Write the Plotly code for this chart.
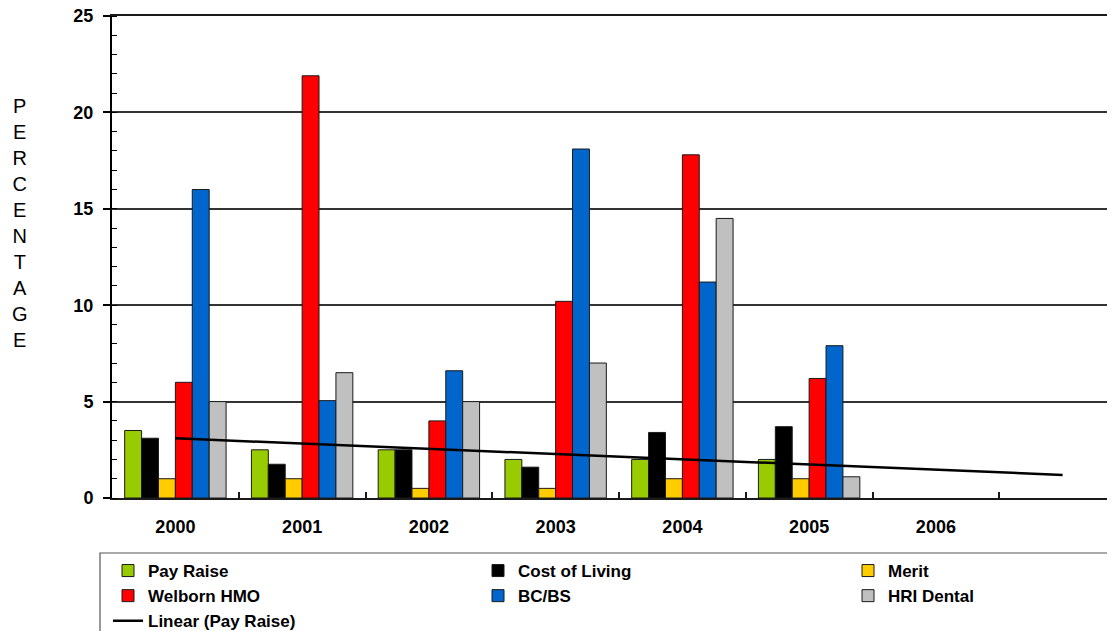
import numpy as np
import plotly.graph_objects as go

categories = ["2000", "2001", "2002", "2003", "2004", "2005", "2006", " "]
pay_raise = [3.5, 2.5, 2.5, 2.0, 2.0, 2.0]
cost_of_living = [3.1, 1.75, 2.5, 1.6, 3.4, 3.7]
merit = [1.0, 1.0, 0.5, 0.5, 1.0, 1.0]
welborn_hmo = [6.0, 21.9, 4.0, 10.2, 17.8, 6.2]
bcbs = [16.0, 5.05, 6.6, 18.1, 11.2, 7.9]
hri_dental = [5.0, 6.5, 5.0, 7.0, 14.5, 1.1]
y_ticks = [0, 5, 10, 15, 20, 25]

series = [
    ("Pay Raise", pay_raise, "#99CC00"),
    ("Cost of Living", cost_of_living, "#000000"),
    ("Merit", merit, "#FFCC00"),
    ("Welborn HMO", welborn_hmo, "#FF0000"),
    ("BC/BS", bcbs, "#0066CC"),
    ("HRI Dental", hri_dental, "#C0C0C0"),
]

# the page body adds an 8px offset; screen = figure + OFF
OFF = 8
PLOT_LEFT_S, PLOT_TOP_S, PLOT_BOTTOM_S, PLOT_RIGHT_S = 112, 16, 498, 1126
L = PLOT_LEFT_S - OFF
T = PLOT_TOP_S - OFF
W = PLOT_RIGHT_S - OFF
H = 660
B = H - (PLOT_BOTTOM_S - OFF)
plot_w = W - L
plot_h = H - T - B

def sx(px):
    return (px - PLOT_LEFT_S) / plot_w

def sy(py):
    return (PLOT_BOTTOM_S - py) / plot_h

fig = go.Figure()
for name, vals, col in series:
    fig.add_trace(go.Bar(
        x=categories[:len(vals)], y=vals, name=name,
        marker=dict(color=col, line=dict(color="#1a1a1a", width=1)),
    ))

# Linear trendline of Pay Raise (least squares over category index)
idx = np.arange(1, len(pay_raise) + 1)
slope, intercept = np.polyfit(idx, pay_raise, 1)
all_idx = np.arange(1, len(categories) + 1)
trend = slope * all_idx + intercept
fig.add_trace(go.Scatter(
    x=categories, y=trend, mode="lines", name="Linear (Pay Raise)",
    line=dict(color="#000000", width=2.5),
))

font_main = "Liberation Sans, Arial, sans-serif"

fig.update_layout(
    width=W, height=H,
    margin=dict(l=L, r=0, t=T, b=B, autoexpand=False),
    paper_bgcolor="white", plot_bgcolor="white",
    barmode="group", bargap=0.2, bargroupgap=0,
    font=dict(family=font_main, color="black"),
    showlegend=True,
    legend=dict(
        orientation="h",
        x=sx(108), y=sy(553),
        xanchor="left", yanchor="top",
        font=dict(size=17, family=font_main, color="black", weight="bold"),
        entrywidth=325, entrywidthmode="pixels",
        bgcolor="rgba(0,0,0,0)", borderwidth=0,
        tracegroupgap=0, itemwidth=30,
    ),
    xaxis=dict(
        type="category", categoryorder="array", categoryarray=categories,
        range=[-0.5, 7.5],
        showgrid=False, zeroline=False,
        showline=True, linecolor="#1a1a1a", linewidth=2, mirror=True,
        ticks="inside", tickson="boundaries", ticklen=6, tickwidth=1.5, tickcolor="#1a1a1a",
        tickfont=dict(size=18, family=font_main, color="black", weight="bold"),
        ticklabelstandoff=11,
    ),
    yaxis=dict(
        range=[0, 25], tickvals=y_ticks,
        showgrid=True, gridcolor="#333333", gridwidth=1.5,
        zeroline=False,
        showline=True, linecolor="#000000", linewidth=2,
        ticks="outside", ticklen=7, tickwidth=1.5, tickcolor="#000000",
        minor=dict(ticks="inside", dtick=1, ticklen=5, tickwidth=1, tickcolor="#000000", showgrid=False),
        tickfont=dict(size=18, family=font_main, color="black", weight="bold"),
        ticklabelstandoff=6, ticklabeloverflow="allow",
    ),
    shapes=[dict(
        type="rect", xref="paper", yref="paper",
        x0=sx(100), x1=sx(1300),
        y0=sy(553), y1=sy(760),
        line=dict(color="#555555", width=1.2), fillcolor="rgba(0,0,0,0)", layer="above",
    )],
    annotations=[dict(
        text="<br>".join(list("PERCENTAGE")),
        xref="paper", yref="paper",
        x=sx(20), y=sy(223),
        xanchor="center", yanchor="middle", showarrow=False, align="center",
        font=dict(size=20, family=font_main, color="black"),
    )],
)

fig.write_html("out.html")
